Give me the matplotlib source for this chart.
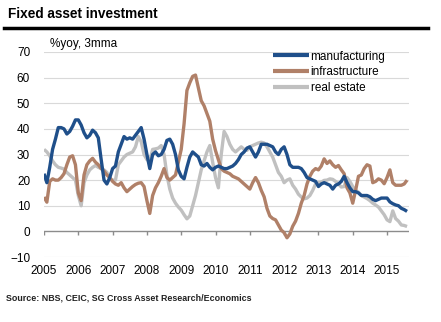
import numpy as np
import matplotlib
matplotlib.use("Agg")
import matplotlib.pyplot as plt

plt.rcParams['font.family'] = ['Liberation Sans', 'DejaVu Sans']

# monthly, Jan 2005 .. Aug 2015 (%yoy, 3mma)
manufacturing = [
    22.5, 19, 25, 32, 36, 40.5, 40.5, 40, 38, 39, 41, 43.5,
    43.5, 41.5, 38.5, 36.5, 37.5, 39.5, 38.5, 36.5, 28, 20, 18.5, 21,
    24.5, 25.5, 31, 34, 37, 36, 36.5, 36, 37.5, 39, 40.5, 36,
    30, 24.5, 30, 31, 29.5, 30, 32, 35.5, 36, 34, 30, 24,
    21.5, 20.5, 25, 29, 31, 30, 29, 26, 25.5, 26.5, 25, 24,
    25, 25.5, 25, 24.5, 24.5, 25, 25.5, 26.5, 28, 30, 31, 32.5,
    33, 31, 29, 31, 34, 34, 34, 33.5, 33, 31, 30, 32,
    33, 30, 26, 25, 25, 25, 24.5, 23, 21, 20.5, 20, 19.5,
    17.5, 18.5, 19, 18.5, 18, 16.5, 18, 18.5, 19.5, 21.5, 19, 17,
    15.5, 15.5, 15, 14, 14, 14, 13.5, 12.5, 12, 12.5, 13, 13,
    13, 11.5, 10.8, 10.3, 10, 9, 8.5, 7.8,
]
infrastructure = [
    13.4, 11.4, 19.5, 20.5, 20, 20, 21, 22.5, 26, 29, 29.5, 26,
    15, 12, 22, 26, 27.5, 28.5, 27, 26, 24.5, 23.5, 22, 21,
    19.5, 18.5, 18, 19, 17, 15.5, 16.5, 17.5, 18.3, 18.8, 19, 17.5,
    12, 7, 14, 17, 19, 21.5, 24.5, 21, 20, 21, 22, 27,
    32, 42, 55, 58, 60.5, 61, 56, 51, 49, 46, 43, 36,
    31.5, 28, 24.5, 23.5, 23, 22.5, 21.5, 21, 20.5, 19.5, 18.5, 17.5,
    16.5, 19, 21, 19, 16, 13.5, 9, 6, 5, 4.5, 2.5, 0.5,
    -0.5, -2.5, -1, 2, 4, 7, 11, 14, 18.5, 21.5, 23.5, 24.5,
    24, 25.5, 28.3, 26.5, 27.5, 26, 25, 25.7, 24, 22.5, 17, 15,
    11, 16, 21.5, 22, 24.5, 26, 25.5, 19, 19.5, 20.5, 20, 18.6,
    21, 24, 19, 18, 18, 18, 18.5, 20,
]
real_estate = [
    32, 31, 29.5, 27.5, 26, 25, 24.7, 24.3, 23, 22, 21, 20,
    14, 10, 19, 22, 24, 25, 25.7, 25, 24.5, 24, 23, 20.5,
    20, 20, 26, 27.5, 29, 30, 30.5, 31, 33, 37, 35, 30,
    28, 27.5, 32, 32.2, 32.5, 33.5, 30, 22, 16.5, 13, 11, 9.5,
    8.3, 6.5, 4.9, 6, 10, 14, 19, 24, 27.5, 31, 33.5, 27,
    21, 17, 30, 39, 37, 34, 32, 31, 32, 33, 32, 31.6,
    33, 33.5, 34, 34.5, 34.8, 34.5, 33, 31, 29, 26, 23, 21.5,
    19, 20, 20.5, 18, 16.5, 14.5, 13.4, 12.7, 13, 14, 16, 18.5,
    19, 19.2, 19.9, 20, 20.5, 20.3, 19.5, 18.5, 17.3, 17.5, 21, 19.5,
    17.5, 16, 15.3, 14, 13.4, 12.8, 12, 11, 10.3, 9.5, 8, 6.5,
    4.5, 3.8, 8, 5, 4, 2.5, 2.3, 1.9,
]
series_names = ['manufacturing', 'infrastructure', 'real estate']
years = list(range(2005, 2016))

t = 2005 + np.arange(len(manufacturing)) / 12.0

fig = plt.figure(figsize=(4.41, 3.22), dpi=100)
ax = fig.add_axes([44 / 441, 1 - 257 / 322, 365 / 441, 205 / 322])

for y in range(-10, 71, 10):
    if y != 0:
        ax.axhline(y, color='#d9d9d9', lw=0.8, zorder=0)
ax.axhline(0, color='#8c8c8c', lw=1.0, zorder=1)
ax.vlines(years, -1.3, 0, color='#8c8c8c', lw=1.0, zorder=1)

l3, = ax.plot(t, real_estate, color='#c0c0c0', lw=2.4, solid_capstyle='butt', zorder=2)
l2, = ax.plot(t, infrastructure, color='#b08068', lw=2.4, solid_capstyle='butt', zorder=3)
l1, = ax.plot(t, manufacturing, color='#1f4f8a', lw=2.4, solid_capstyle='butt', zorder=4)

ax.set_xlim(2005, 2015.64)
ax.set_ylim(-10, 70)
ax.set_yticks(range(-10, 71, 10))
ax.set_xticks(years)
ax.tick_params(axis='both', length=0, labelsize=8.5, colors='black')
ax.tick_params(axis='y', pad=10)
ax.tick_params(axis='x', pad=6)
for s in ax.spines.values():
    s.set_visible(False)

leg = ax.legend([l1, l2, l3], series_names, loc='upper left',
                bbox_to_anchor=(0.614, 1.03), frameon=False, fontsize=8.5,
                handlelength=3.1, handletextpad=0.1, labelspacing=0.33,
                borderaxespad=0)
for h in leg.get_lines():
    h.set_linewidth(3.0)

fig.text(8 / 441, 1 - 14 / 322, 'Fixed asset investment', fontsize=9.8,
         fontweight='bold', va='center', ha='left')
fig.add_artist(plt.Line2D([4 / 441, 428 / 441], [1 - 28 / 322, 1 - 28 / 322],
                          color='black', lw=2.5))
fig.text(50 / 441, 1 - 44 / 322, '%yoy, 3mma', fontsize=8.5, va='center', ha='left')
fig.text(6 / 441, 1 - 298 / 322, 'Source: NBS, CEIC, SG Cross Asset Research/Economics',
         fontsize=6.4, fontweight='bold', va='center', ha='left', color='#222222')

fig.savefig('out.png', dpi=100)
